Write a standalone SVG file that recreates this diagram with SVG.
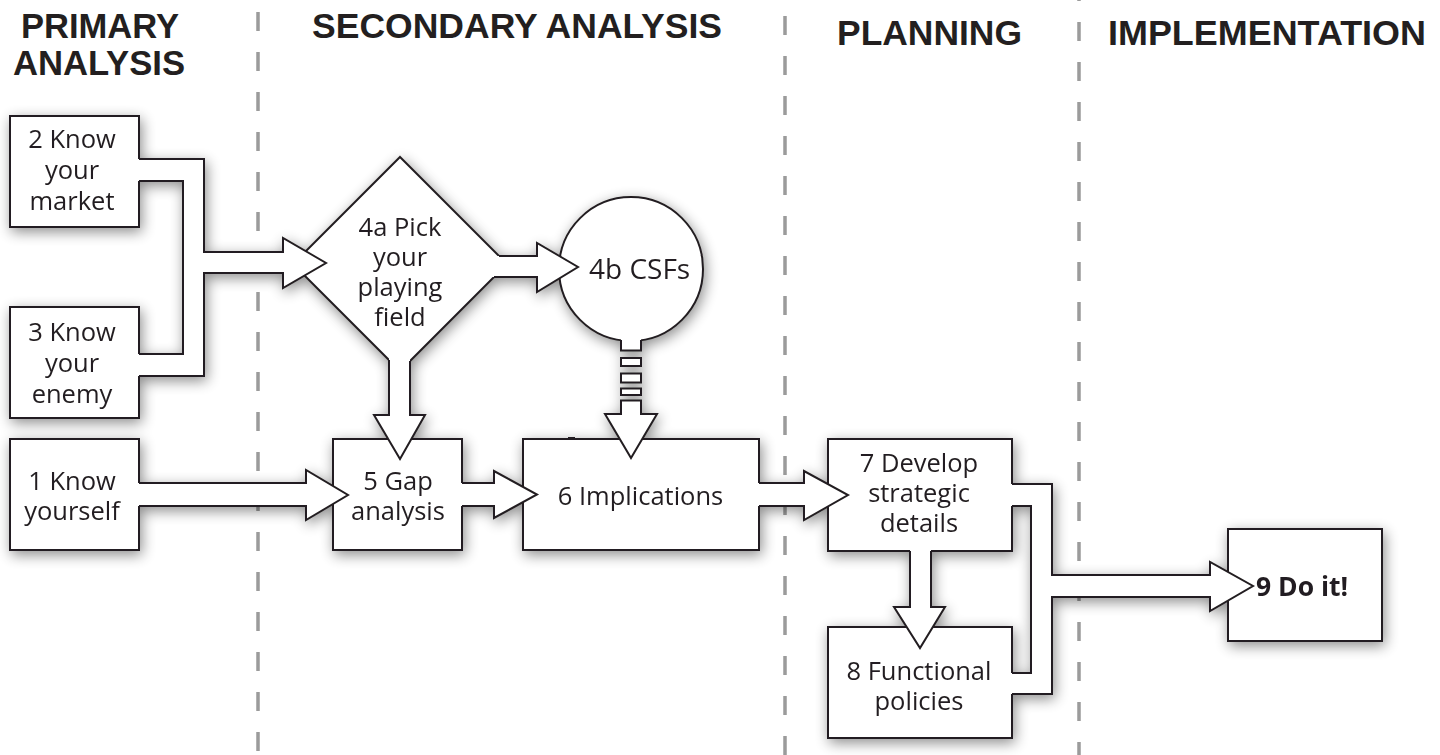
<svg xmlns="http://www.w3.org/2000/svg" width="1440" height="755" viewBox="0 0 1440 755">
<defs>
<style>
.box{fill:#fff;stroke:#231f20;stroke-width:2}
.cf{fill:#fff;stroke:none}
.cl{fill:none;stroke:#231f20;stroke-width:2;stroke-linejoin:miter}
.t{font-family:"Open Sans","Noto Sans",sans-serif;font-size:25.5px;fill:#231f20;text-anchor:middle}
.ts{font-family:"Open Sans","Noto Sans",sans-serif;font-size:25.5px;fill:#231f20;text-anchor:start}
.h{font-family:"Liberation Sans",Arial,sans-serif;font-weight:bold;font-size:35px;fill:#231f20}
.dash{stroke:#9b9b9b;stroke-width:3.5;stroke-dasharray:19 21;fill:none}
</style>
<filter id="sh" x="-5%" y="-5%" width="115%" height="115%">
<feGaussianBlur in="SourceAlpha" stdDeviation="7"/>
<feOffset dx="2" dy="4"/>
<feComponentTransfer><feFuncA type="linear" slope="0.45"/></feComponentTransfer>
<feMerge><feMergeNode/><feMergeNode in="SourceGraphic"/></feMerge>
</filter>
</defs>
<rect width="1440" height="755" fill="#fff"/>
<g id="lanes">
<line class="dash" x1="258" y1="-28" x2="258" y2="755"/>
<line class="dash" x1="785" y1="-24" x2="785" y2="755"/>
<line class="dash" x1="1079" y1="-18" x2="1079" y2="755"/>
</g>
<g id="headers">
<text class="h" x="21" y="38" textLength="158" lengthAdjust="spacingAndGlyphs">PRIMARY</text>
<text class="h" x="13" y="75" textLength="172" lengthAdjust="spacingAndGlyphs">ANALYSIS</text>
<text class="h" x="312" y="38" textLength="410" lengthAdjust="spacingAndGlyphs">SECONDARY ANALYSIS</text>
<text class="h" x="837" y="45" textLength="185" lengthAdjust="spacingAndGlyphs">PLANNING</text>
<text class="h" x="1108" y="45" textLength="318" lengthAdjust="spacingAndGlyphs">IMPLEMENTATION</text>
</g>
<g filter="url(#sh)">
<g id="node-2"><rect class="box" x="10" y="116" width="129" height="111"/>
<text class="t" x="72" y="148">2 Know</text><text class="t" x="72" y="179">your</text><text class="t" x="72" y="210">market</text></g>
<g id="node-3"><rect class="box" x="10" y="307" width="129" height="111"/>
<text class="t" x="72" y="341">3 Know</text><text class="t" x="72" y="372">your</text><text class="t" x="72" y="403">enemy</text></g>
<g id="node-1"><rect class="box" x="10" y="439" width="129" height="111"/>
<text class="t" x="72" y="490">1 Know</text><text class="t" x="72" y="520">yourself</text></g>
<g id="node-4a"><polygon class="box" points="400,157 507,264 400,371 293,264"/>
<text class="t" x="400" y="236">4a Pick</text><text class="t" x="400" y="266">your</text><text class="t" x="400" y="296">playing</text><text class="t" x="400" y="326">field</text></g>
<g id="node-4b"><circle class="box" cx="631" cy="269" r="72"/>
<text class="ts" x="589" y="279" style="font-size:28px">4b CSFs</text></g>
<g id="node-5"><rect class="box" x="333" y="439" width="129" height="111"/>
<text class="t" x="398" y="490">5 Gap</text><text class="t" x="398" y="520">analysis</text></g>
<g id="node-6"><rect class="box" x="523" y="439" width="236" height="111"/>
<rect x="568" y="437" width="7" height="2" fill="#231f20"/>
<text class="t" x="640.5" y="505">6 Implications</text></g>
<g id="node-7"><rect class="box" x="828" y="439" width="184" height="112"/>
<text class="t" x="919" y="472">7 Develop</text><text class="t" x="919" y="502">strategic</text><text class="t" x="919" y="532">details</text></g>
<g id="node-8"><rect class="box" x="828" y="627" width="184" height="111"/>
<text class="t" x="919" y="680">8 Functional</text><text class="t" x="919" y="710">policies</text></g>
<g id="node-9"><rect class="box" x="1228" y="529" width="154" height="112"/>
<text class="ts" x="1256" y="596" font-weight="bold" style="font-size:26.5px">9 Do it!</text></g>
<g id="connectors">
<polygon class="cf" points="137,159 204,159 204,252 283,252 283,238 326,263 283,288 283,273 204,273 204,376 137,376 137,354 183,354 183,181 137,181"/>
<polyline class="cl" points="139,159 204,159 204,252 283,252 283,238 326,263 283,288 283,273 204,273 204,376 139,376"/>
<polyline class="cl" points="139,181 183,181 183,354 139,354"/>
<polygon class="cf" points="495,256 537,256 537,243 578,267 537,292 537,277 490,277"/>
<polyline class="cl" points="499,256 537,256 537,243 578,267 537,292 537,277 494,277"/>
<polygon class="cf" points="389,355 410,355 410,415 425,415 400,459 374,415 389,415"/>
<polyline class="cl" points="389,360 389,415 374,415 400,459 425,415 410,415 410,361"/>
<rect class="cf" x="621" y="334" width="20" height="17"/>
<polyline class="cl" points="621,340 621,350.5 641,350.5 641,340"/>
<rect class="box" x="621" y="358" width="20" height="8"/>
<rect class="box" x="621" y="373.5" width="20" height="9"/>
<rect class="box" x="621" y="388.5" width="20" height="6.5"/>
<polygon class="box" points="621,400.5 641,400.5 641,414 657,414 631,458 605,414 621,414"/>
<polygon class="cf" points="137,483 306,483 306,470 348,495 306,520 306,506 137,506"/>
<polyline class="cl" points="139,483 306,483 306,470 348,495 306,520 306,506 139,506"/>
<polygon class="cf" points="460,483 494,483 494,471 537,494.5 494,518 494,506 460,506"/>
<polyline class="cl" points="462,483 494,483 494,471 537,494.5 494,518 494,506 462,506"/>
<polygon class="cf" points="757,483 804,483 804,471 848,495 804,520 804,506 757,506"/>
<polyline class="cl" points="759,483 804,483 804,471 848,495 804,520 804,506 759,506"/>
<polygon class="cf" points="910,549 931,549 931,607 945,607 920,648 894,607 910,607"/>
<polyline class="cl" points="910,551 910,607 894,607 920,648 945,607 931,607 931,551"/>
<polygon class="cf" points="1010,484 1052,484 1052,575 1210,575 1210,562 1253,586 1210,611 1210,597 1052,597 1052,694 1010,694 1010,673 1031,673 1031,506 1010,506"/>
<polyline class="cl" points="1012,484 1052,484 1052,575 1210,575 1210,562 1253,586 1210,611 1210,597 1052,597 1052,694 1012,694"/>
<polyline class="cl" points="1012,506 1031,506 1031,673 1012,673"/>
</g>
</g>
</svg>
